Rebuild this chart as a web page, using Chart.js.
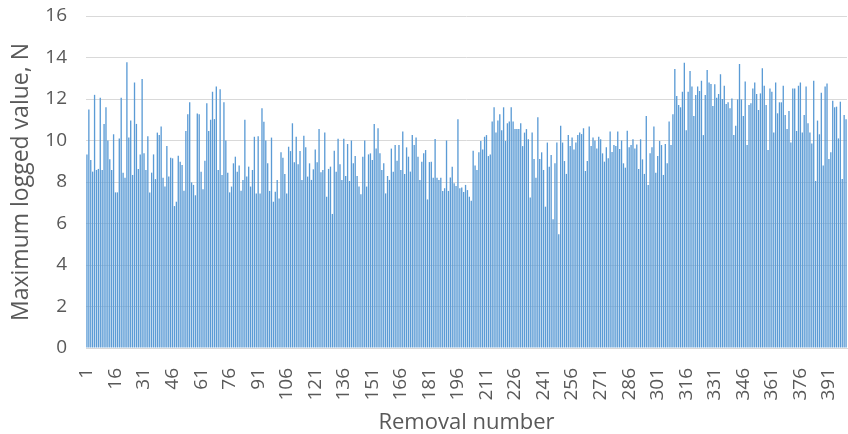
<!DOCTYPE html>
<html>
  <head>
    <meta charset="utf-8">
    <title>Maximum logged value per removal</title>
    <script src="https://cdn.jsdelivr.net/npm/chart.js"></script>
    <style>
      body { margin: 0; background: #fff; }
      #frame { width: 848px; height: 434px; }
    </style>
  </head>
  <body>
    <div id="frame">
      <canvas id="chart"></canvas>
    </div>
    <script>
      // values, removal 1 .. 400
      const values1 = [9.33, 11.5, 9.06, 8.5, 12.2, 8.58, 8.63, 12.06, 8.58, 10.8, 11.6, 10.0, 9.1, 8.58, 10.3, 7.5, 7.5, 10.1, 12.06, 8.45,
        8.2, 13.77, 10.14, 10.96, 8.34, 12.79, 10.8, 8.63, 9.33, 12.96, 9.38, 8.58, 10.2, 7.5, 8.45, 9.33, 8.14, 10.38, 10.26, 10.67,
        8.2, 7.78, 9.73, 8.26, 9.17];
      const values2 = [9.14, 6.84, 7.05, 9.27, 8.98, 8.82, 7.58, 10.46, 11.26, 11.84, 7.98, 7.86, 7.36, 11.3, 11.26, 8.5, 7.65, 9.03, 11.79, 10.46,
        11.0, 12.35, 11.03, 12.6, 8.58, 12.47, 8.34, 11.84, 10.0, 8.45, 7.5, 7.78, 8.9, 9.22, 8.5, 8.79, 7.58, 8.1, 11.0, 8.26,
        8.74, 7.78, 8.58, 10.18, 7.45, 10.2];
      const values3 = [7.45, 11.55, 10.9, 10.0, 8.9, 7.57, 10.14, 7.05, 7.53, 8.1, 7.21, 9.43, 9.17, 8.39, 7.45, 9.7, 9.49, 10.83, 8.95, 10.18,
        8.85, 9.49, 8.1, 10.23, 9.67, 8.26, 8.9, 8.1, 8.61, 9.57, 8.95, 10.55, 8.47, 8.58, 10.38, 7.29, 8.63, 8.74, 6.46, 9.51,
        8.5, 10.09, 8.85, 8.1, 10.09];
      const values4 = [8.29, 9.83, 8.05, 10.0, 8.9, 9.25, 8.29, 7.78, 7.41, 9.22, 10.0, 7.78, 9.33, 9.38, 9.06, 10.8, 9.61, 10.59, 9.38, 8.58,
        8.9, 7.45, 8.29, 8.1, 9.61, 8.5, 9.78, 9.03, 9.78, 8.58, 10.43, 8.39, 9.67, 9.22, 8.5, 10.26, 9.78, 10.14, 9.22, 8.1,
        8.98, 9.38, 9.54, 7.16, 8.96];
      const values5 = [8.98, 8.21, 10.07, 8.21, 8.1, 8.21, 7.57, 7.7, 10.0, 7.57, 8.22, 8.74, 7.94, 7.81, 11.02, 7.7, 7.74, 7.52, 7.86, 7.61,
        7.29, 7.1, 9.51, 8.8, 8.58, 9.43, 9.98, 9.57, 10.18, 10.26, 9.25, 9.33, 10.91, 11.6, 10.38, 10.96, 11.26, 10.5, 11.6, 9.98,
        10.83, 10.91, 11.6, 10.91, 10.55];
      const values6 = [10.55, 10.55, 10.83, 9.73, 10.38, 10.55, 10.06, 7.25, 10.38, 9.11, 8.21, 11.12, 9.11, 9.43, 8.58, 6.81, 9.9, 8.74, 9.3, 6.2,
        8.9, 9.9, 5.48, 10.71, 9.9, 9.01, 8.39, 10.26, 9.73, 10.14, 9.57, 9.9, 10.26, 10.38, 10.31, 10.59, 8.53, 9.01, 10.67, 9.73,
        10.14, 10.0, 9.62, 10.18, 10.06];
      const values7 = [9.38, 8.98, 9.67, 9.14, 10.43, 9.45, 9.78, 9.73, 10.43, 9.59, 10.0, 8.9, 8.69, 10.47, 9.67, 9.78, 10.06, 9.61, 9.81, 8.63,
        10.06, 9.09, 8.39, 11.18, 7.86, 9.38, 9.67, 10.67, 8.45, 9.25, 9.98, 9.78, 8.34, 9.83, 8.9, 10.91, 9.78, 11.26, 13.45, 12.14,
        11.71, 11.6, 12.35, 13.75, 10.5];
      const values8 = [12.35, 13.35, 12.6, 11.18, 12.19, 12.6, 12.39, 12.88, 10.26, 12.19, 13.4, 12.8, 12.72, 11.66, 12.71, 12.06, 12.24, 13.19, 12.0, 12.64,
        11.76, 11.84, 11.55, 12.03, 10.26, 10.71, 11.98, 13.69, 11.98, 11.18, 12.84, 9.78, 11.71, 11.79, 12.51, 12.8, 12.24, 11.47, 12.27, 13.48,
        12.64, 11.71, 9.54, 12.51, 12.35];
      const values9 = [10.38, 12.8, 11.31, 11.84, 11.84, 12.64, 11.23, 10.55, 11.42, 9.9, 12.51, 12.51, 10.46, 12.64, 12.8, 10.38, 11.23, 12.6, 10.83, 10.38,
        9.86, 12.88, 8.05, 10.96, 10.3, 12.3, 8.79, 12.6, 12.75, 9.11, 9.43, 11.92, 11.6, 11.63, 10.1, 11.87, 8.14, 11.23, 11.02];

      const values = [].concat(values1, values2, values3, values4, values5, values6, values7, values8, values9);
      const removals = values.map((v, i) => String(i + 1));
      const yTicks = [0, 2, 4, 6, 8, 10, 12, 14, 16];

      const textColor = '#595959';
      const gridColor = '#d9d9d9';
      const barColor = '#5b9bd5';
      const fontFamily = '"Open Sans", "DejaVu Sans", sans-serif';

      new Chart(document.getElementById('chart'), {
        type: 'bar',
        data: {
          labels: removals,
          datasets: [{
            label: 'Maximum logged value, N',
            data: values,
            backgroundColor: barColor,
            barPercentage: 0.7,
            categoryPercentage: 1.0
          }]
        },
        options: {
          responsive: true,
          maintainAspectRatio: false,
          animation: false,
          layout: { padding: { top: 16, right: 1, left: 0, bottom: 0 } },
          plugins: {
            legend: { display: false },
            tooltip: { enabled: false }
          },
          scales: {
            x: {
              afterFit: function(axis) {
                axis.height = 86;
                axis.paddingLeft = 0;
                axis.paddingRight = 0;
              },
              grid: { display: false },
              border: { color: gridColor, width: 1 },
              ticks: {
                autoSkip: false,
                minRotation: 90,
                maxRotation: 90,
                color: textColor,
                font: { family: fontFamily, size: 19 },
                padding: 12,
                callback: function(val, idx) {
                  return idx % 15 === 0 ? removals[idx] : null;
                }
              },
              title: {
                display: true,
                text: 'Removal number',
                color: textColor,
                font: { family: fontFamily, size: 22 },
                padding: { top: 0, bottom: -2 }
              }
            },
            y: {
              min: yTicks[0],
              max: yTicks[yTicks.length - 1],
              afterFit: function(axis) {
                axis.width = 86;
                axis.paddingTop = 0;
                axis.paddingBottom = 0;
              },
              afterBuildTicks: function(axis) {
                axis.ticks = yTicks.map(v => ({ value: v }));
              },
              grid: { color: gridColor, lineWidth: 1, drawTicks: false },
              border: { display: false },
              ticks: {
                color: textColor,
                font: { family: fontFamily, size: 19 },
                padding: 19
              },
              title: {
                display: true,
                text: 'Maximum logged value, N',
                color: textColor,
                font: { family: fontFamily, size: 23 },
                padding: { top: 8, bottom: 0 }
              }
            }
          }
        }
      });
    </script>
  </body>
</html>
